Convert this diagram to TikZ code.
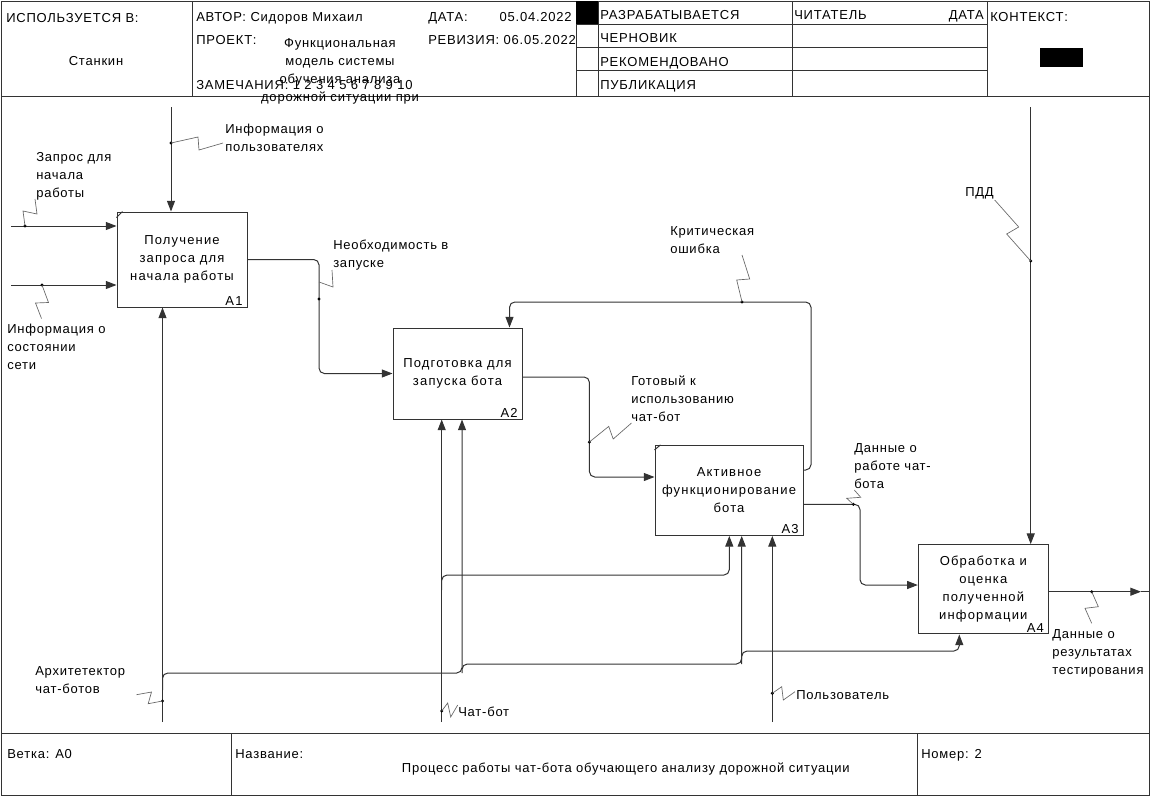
\documentclass[tikz,border=0pt]{standalone}
\usepackage{fontspec}
\setmainfont{Liberation Sans}[LetterSpace=6]
\newfontfamily\dfont[LetterSpace=6]{Liberation Sans}
\newfontfamily\bfont[LetterSpace=9]{Liberation Sans}
\usetikzlibrary{arrows.meta,calc}

\begin{document}
\begin{tikzpicture}[x=0.75pt,y=-0.75pt,font=\fontsize{9.75pt}{13.5pt}\selectfont,
	frm/.style={draw=black!80,line width=0.75pt},
	fbox/.style={frm,align=center,inner sep=0pt,font=\bfont\fontsize{9.75pt}{13.5pt}\selectfont},
	boxid/.style={anchor=south east,inner xsep=3.5pt,inner ysep=1.5pt,font=\bfont\fontsize{9.75pt}{13.5pt}\selectfont},
	dot/.style={circle,fill=black,inner sep=0pt,minimum width=2.5pt},
	ln/.style={frm,rounded corners=4pt},
	arr/.style={ln,-{Triangle[length=8pt,width=6pt]}},
	zz/.style={draw=black!60,line width=0.5pt},
	lbl/.style={anchor=north west,inner sep=0pt,align=left,font=\dfont\fontsize{9.75pt}{13.5pt}\selectfont},
	hd/.style={anchor=base west,inner sep=0pt}]
	\useasboundingbox (0,0) rectangle (1151,796);

	% frame
	\draw[frm] (1,1) rectangle (1149,795);
	\draw[frm] (1,96) -- (1149,96) (1,733) -- (1149,733);
	\foreach \x in {192,576,598,792,987}
		\draw[frm] (\x,1) -- (\x,96);
	\foreach \y in {24,47,70}
		\draw[frm] (576,\y) -- (987,\y);
	\foreach \x in {231,917}
		\draw[frm] (\x,733) -- (\x,795);
	\fill (576,1) rectangle (598,24);
	\fill (1040,48) rectangle (1083,67);

	\node[hd] (used) at (6,22.5) {ИСПОЛЬЗУЕТСЯ В:};
	\node[hd,anchor=base] (org) at (96,65) {Станкин};
	\node[hd] (author) at (196,21.5) {АВТОР: Сидоров Михаил};
	\node[hd] (date) at (428,21.5) {ДАТА:};
	\node[hd,anchor=base east] (dateval) at (572,21.5) {05.04.2022};
	\node[hd] (proj) at (196,44.3) {ПРОЕКТ:};
	\node[hd] (rev) at (428,44.3) {РЕВИЗИЯ: 06.05.2022};
	\foreach \t [count=\i] in {Функциональная,модель системы,обучения анализа,дорожной ситуации при}
		\node[hd,anchor=base] (p\i) at (340,28.7+18.3*\i) {\t};
	\node[hd] (notes) at (196,89.5) {ЗАМЕЧАНИЯ: 1 2 3 4 5 6 7 8 9 10};
	\foreach \t [count=\i] in {РАЗРАБАТЫВАЕТСЯ,ЧЕРНОВИК,РЕКОМЕНДОВАНО,ПУБЛИКАЦИЯ}
		\node[hd] (s\i) at (600,-3.5+23.2*\i) {\t};
	\node[hd] (reader) at (794,19.5) {ЧИТАТЕЛЬ};
	\node[hd,anchor=base east] (rdate) at (984,19.5) {ДАТА};
	\node[hd] (ctx) at (990,21.7) {КОНТЕКСТ:};

	\node[hd] (branch) at (7,758) {Ветка: А0};
	\node[hd] (title) at (235,758) {Название:};
	\node[hd,anchor=base east] (titletext) at (850,772) {Процесс работы чат-бота обучающего анализу дорожной ситуации};
	\node[hd] (num) at (921,758) {Номер: 2};

	% blocks
	\node[fbox,minimum width=97.5pt,minimum height=71.25pt] (A1) at (182,259.5) {Получение\\запроса для\\начала работы};
	\node[fbox,minimum width=96.75pt,minimum height=68.25pt] (A2) at (457.5,373.5) {Подготовка для\\запуска бота};
	\node[fbox,minimum width=111pt,minimum height=67.5pt] (A3) at (729,490.4) {Активное\\функционирование\\бота};
	\node[fbox,minimum width=97.5pt,minimum height=67pt] (A4) at (983.3,589.3) {Обработка и\\оценка\\полученной\\информации};
	\foreach \b in {A1,A2,A3,A4}
		\node[boxid] (\b id) at (\b.south east) {\b};
	\draw[frm] ($(A1.north west)+(0,6)$) -- ($(A1.north west)+(6,0)$);
	\draw[frm] ($(A3.north west)+(0,5)$) -- ($(A3.north west)+(6,0)$);

	% inputs
	\coordinate (i1) at (11,226);
	\coordinate (i2) at (11,285);
	\draw[arr] (i1) -- (i1 -| A1.west);
	\draw[arr] (i2) -- (i2 -| A1.west);
	\node[dot] (d1) at (25,226) {};
	\node[dot] (d2) at (42,285) {};
	\draw[zz] (d1.center) -- ++(-2,-15) -- ++(14,3) -- ++(-2,-15);
	\draw[zz] (d2.center) -- ++(6.5,17.5) -- ++(-13,0.5) -- ++(6,15.5);
	\node[lbl] (t1) at (36,152) {Запрос для\\начала\\работы};
	\node[lbl] (t2) at (7,324) {Информация о\\состоянии\\сети};

	% controls
	\coordinate (c1) at (171,107);
	\coordinate (c2) at (1030.7,107);
	\draw[arr] (c1) -- (c1 |- A1.north);
	\draw[arr] (c2) -- (c2 |- A4.north);
	\node[dot] (d3) at (171,143) {};
	\node[dot] (d4) at (1030.7,261) {};
	\draw[zz] (d3.center) -- ++(27,-6) -- ++(1,13) -- ++(24,-7);
	\draw[zz] (d4.center) -- ++(-24,-27) -- ++(12,-7) -- ++(-24,-27);
	\node[lbl] (t3) at (225,124) {Информация о\\пользователях};
	\node[lbl] (t4) at (965,187) {ПДД};

	% outputs
	\draw[arr] (A1.east) -| (319,373.5) -- (A2.west);
	\node[dot] (d5) at (319,299) {};
	\draw[zz] ($(d5)+(0,-17)$) -- ++(14,5) -- ++(-1,-17);
	\node[lbl] (t5) at (333,240) {Необходимость в\\запуске};

	\draw[arr] (A2.east |- 0,377) -| (589.4,477) -- (A3.west |- 0,477);
	\node[dot] (d6) at (589.4,442) {};
	\draw[zz] (d6.center) -- ++(19.3,-15.6) -- ++(4.5,12.6) -- ++(18.3,-16);
	\node[lbl] (t6) at (631,376) {Готовый к\\использованию\\чат-бот};

	\draw[arr] (A3.east |- 0,470) -| (811,302) -| (A2.north -| 509.5,0);
	\node[dot] (d7) at (742,302) {};
	\draw[zz] (d7.center) -- ++(-5.3,-22) -- ++(13,-1) -- ++(-7.7,-24);
	\node[lbl] (t7) at (670,226) {Критическая\\ошибка};

	\draw[arr] (A3.east |- 0,504.3) -| (860,585) -- (A4.west |- 0,585);
	\node[dot] (d8) at (853.3,504.3) {};
	\draw[zz] (d8.center) -- ++(-6.6,-6) -- ++(14,-1) -- ++(-6.4,-7.3);
	\node[lbl] (t8) at (854,443) {Данные о\\работе чат-\\бота};

	\coordinate (o5) at (1141,591.7);
	\draw[arr] (A4.east |- o5) -- (o5);
	\draw[ln] (o5) -- (1149,591.7);
	\node[dot] (d9) at (1091.7,591.7) {};
	\draw[zz] (d9.center) -- ++(6.6,15) -- ++(-13.3,1.6) -- ++(6.7,15);
	\node[lbl] (t9) at (1052,629) {Данные о\\результатах\\тестирования};

	% mechanisms
	\coordinate (m1) at (162.5,722);
	\coordinate (m2) at (441.7,722);
	\coordinate (m3) at (772.3,722);
	\draw[arr] (m1) -- (m1 |- A1.south);
	\draw[arr] (162.5,690) |- (462,673) -- (A2.south -| 462,0);
	\draw[arr] (462,673) |- (741.7,664) -- (A3.south -| 741.7,0);
	\draw[arr] (741.7,664) |- (959.3,651) -- (A4.south -| 959.3,0);
	\draw[arr] (m2) -- (m2 |- A2.south);
	\draw[arr] (441.7,590) |- (729.3,575) -- (A3.south -| 729.3,0);
	\draw[arr] (m3) -- (m3 |- A3.south);
	\node[dot] (d10) at (162.5,701) {};
	\node[dot] (d11) at (441.7,711) {};
	\node[dot] (d12) at (772.3,693.3) {};
	\draw[zz] (d10.center) -- ++(-14.3,2.7) -- ++(3.3,-11.7) -- ++(-15,2.7);
	\draw[zz] (d11.center) -- ++(6,-8) -- ++(3,14) -- ++(7,-12);
	\draw[zz] (d12.center) -- ++(9.4,-6.6) -- ++(1.6,13.3) -- ++(11.7,-8.3);
	\node[lbl] (t10) at (35,666) {Архитетектор\\чат-ботов};
	\node[lbl] (t11) at (458,707) {Чат-бот};
	\node[lbl] (t12) at (796,690) {Пользователь};
\end{tikzpicture}
\end{document}
